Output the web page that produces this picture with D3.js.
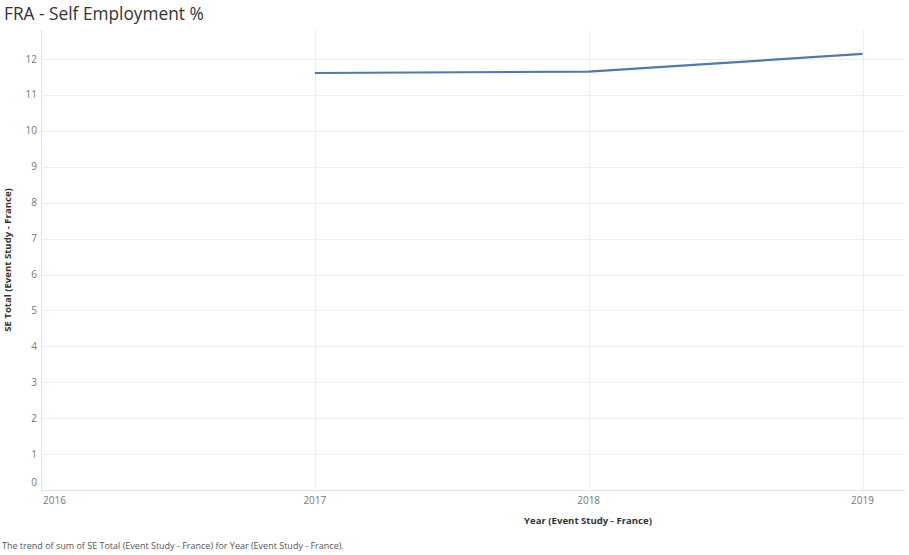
<!DOCTYPE html>
<html>
<head>
<meta charset="utf-8">
<script src="https://cdn.jsdelivr.net/npm/d3@7"></script>
<style>
  body { margin: 0; background: #fff; }
  svg { display: block; font-family: "Open Sans", "Lato", sans-serif; }
</style>
</head>
<body>
<svg id="chart" width="909" height="555"></svg>
<script>
const years = [2017, 2018, 2019];
const seTotal = [11.61, 11.65, 12.14];
const xTicks = [2016, 2017, 2018, 2019];
const yTicks = [0, 1, 2, 3, 4, 5, 6, 7, 8, 9, 10, 11, 12];
const title = "FRA - Self Employment %";
const xTitle = "Year (Event Study - France)";
const yTitle = "SE Total (Event Study - France)";
const caption = "The trend of sum of SE Total (Event Study - France) for Year (Event Study - France).";

const svg = d3.select("#chart");
const plotLeft = 41, plotRight = 905, plotTop = 30, plotBottom = 490;

const x = d3.scaleLinear().domain([2016, 2019]).range([plotLeft, 862.5]);
const y = d3.scaleLinear().domain([0, 12]).range([plotBottom, 59]);

// title
svg.append("text").attr("x", 4).attr("y", 20)
  .attr("font-size", 17.3).attr("fill", "#333").text(title);

// horizontal gridlines
svg.append("g").selectAll("line").data(yTicks).join("line")
  .attr("x1", plotLeft).attr("x2", plotRight)
  .attr("y1", d => Math.round(y(d)) + 0.5).attr("y2", d => Math.round(y(d)) + 0.5)
  .attr("stroke", d => d === 0 ? "#e2e2e2" : "#efefef").attr("stroke-width", 1);

// vertical gridlines
svg.append("g").selectAll("line").data(xTicks).join("line")
  .attr("x1", d => Math.round(x(d)) + 0.5).attr("x2", d => Math.round(x(d)) + 0.5)
  .attr("y1", plotTop).attr("y2", plotBottom + 2)
  .attr("stroke", d => d === 2016 ? "#e2e2e2" : "#efefef").attr("stroke-width", 1);

// y tick labels
svg.append("g").selectAll("text").data(yTicks).join("text")
  .attr("x", 37).attr("y", d => d === 0 ? y(d) - 8 : y(d))
  .attr("dy", "0.35em").attr("text-anchor", "end")
  .attr("font-size", 10).attr("fill", "#777").text(d => d);

// x tick labels
svg.append("g").selectAll("text").data(xTicks).join("text")
  .attr("x", d => d === 2016 ? x(d) + 2 : x(d))
  .attr("y", 504)
  .attr("text-anchor", d => d === 2016 ? "start" : "middle")
  .attr("font-size", 10).attr("fill", "#777").text(d => d);

// line
const line = d3.line().x((d, i) => x(years[i])).y(d => y(d));
svg.append("path").datum(seTotal)
  .attr("d", line).attr("fill", "none")
  .attr("stroke", "#5079ad").attr("stroke-width", 2.2)
  .attr("stroke-linejoin", "round");

// axis titles
svg.append("text").attr("x", 588).attr("y", 524)
  .attr("text-anchor", "middle").attr("font-size", 9.6).attr("font-weight", "bold")
  .attr("fill", "#333").text(xTitle);

svg.append("text")
  .attr("transform", "translate(11,260) rotate(-90)")
  .attr("text-anchor", "middle").attr("font-size", 9.6).attr("font-weight", "bold")
  .attr("fill", "#333").text(yTitle);

// caption
svg.append("text").attr("x", 2).attr("y", 549)
  .attr("font-size", 9).attr("fill", "#555").text(caption);
</script>
</body>
</html>
